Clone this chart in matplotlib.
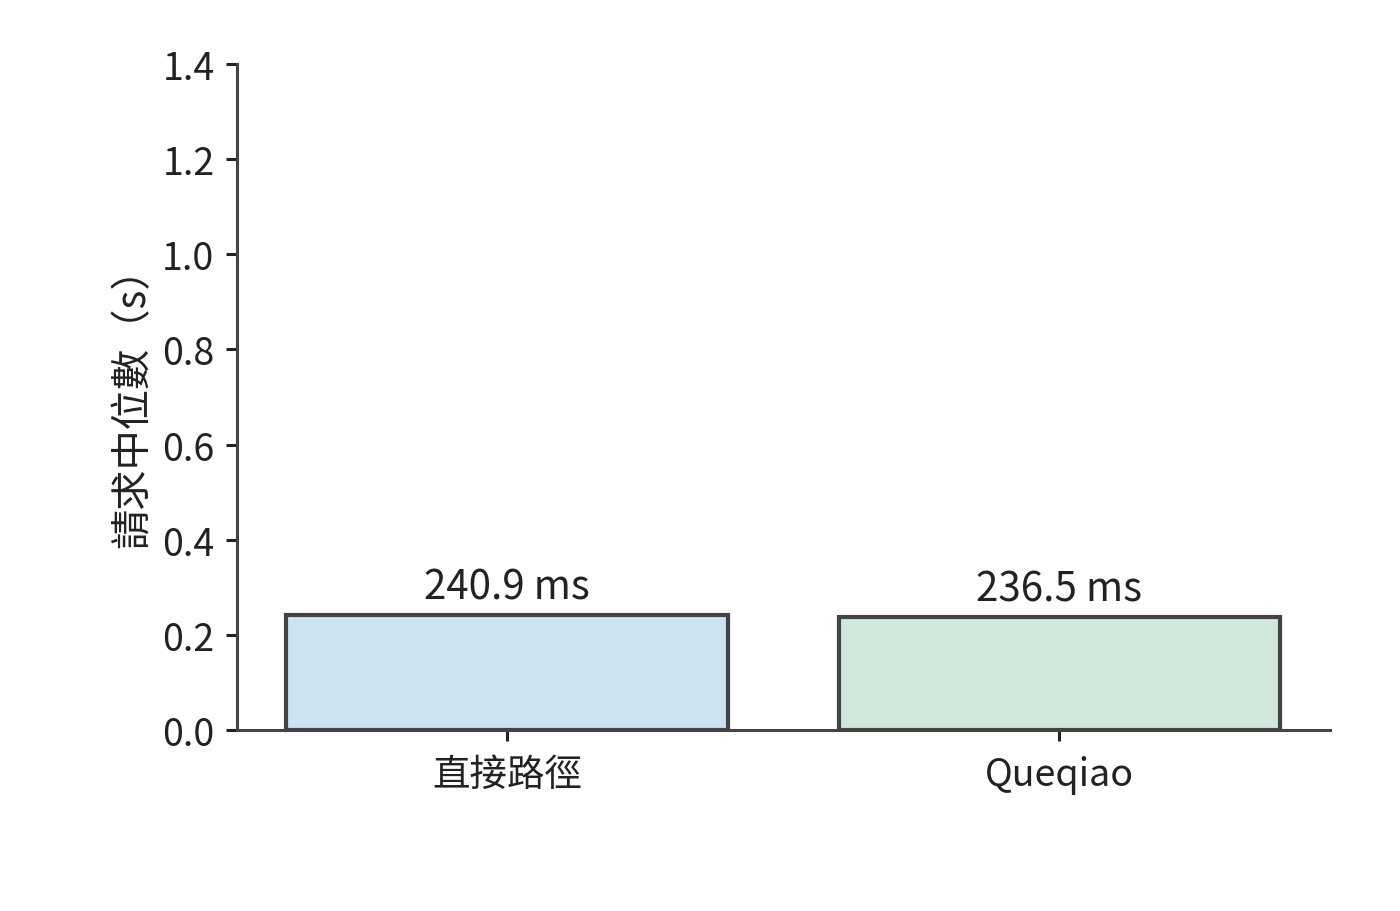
import matplotlib
matplotlib.use("Agg")
import matplotlib.pyplot as plt

plt.rcParams['font.family'] = ['Noto Sans CJK TC', 'DejaVu Sans']

categories = ["直接路徑", "Queqiao"]
medians = [0.2409, 0.2365]
labels = ["240.9 ms", "236.5 ms"]
colors = ["#cce3f2", "#d0e8dc"]

fig = plt.figure(figsize=(7, 4.56), dpi=200)
ax = fig.add_axes([0.169, 0.1985, 0.781, 0.7302])

bars = ax.bar(range(len(categories)), medians, width=0.8, color=colors,
              edgecolor="#444444", linewidth=1.5)
for b, lab in zip(bars, labels):
    ax.annotate(lab, (b.get_x() + b.get_width() / 2, b.get_height()),
                xytext=(0, 3), textcoords="offset points",
                ha="center", va="bottom", fontsize=14.5, color="#222222")

ax.set_xlim(-0.49, 1.49)
ax.set_ylim(0, 1.4)
ax.set_yticks([0, 0.2, 0.4, 0.6, 0.8, 1.0, 1.2, 1.4])
ax.set_xticks(range(len(categories)))
ax.set_xticklabels(categories)
ax.set_ylabel("請求中位數（s）", fontsize=14.5, color="#222222", labelpad=3)

for s in ["top", "right"]:
    ax.spines[s].set_visible(False)
for s in ["left", "bottom"]:
    ax.spines[s].set_color("#444444")
    ax.spines[s].set_linewidth(1.1)
ax.tick_params(axis="both", labelsize=13.5, colors="#222222", length=4,
               width=1.1, pad=4)
ax.tick_params(axis="x", pad=5)
ax.tick_params(axis="both", color="#222222")

fig.savefig("out.png", dpi=200)
